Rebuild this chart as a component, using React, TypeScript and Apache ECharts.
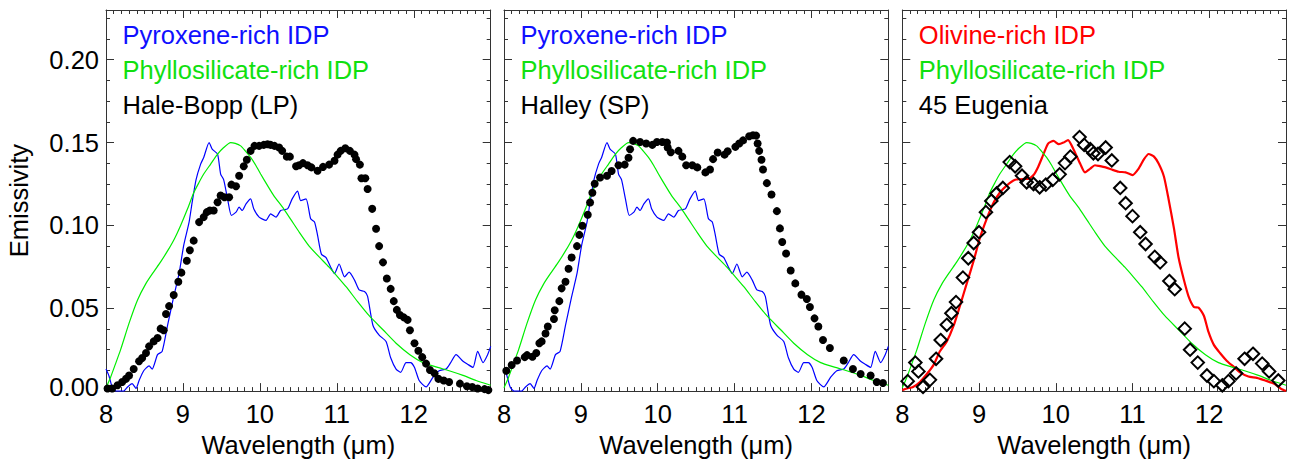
import React, { useEffect, useRef } from "react";
import * as echarts from "echarts";

// ---------- data (wavelength µm, emissivity) ----------
const pyroxeneIDP: number[][] = [
  [8.0, 0.0133], [8.04, 0.009], [8.08, 0.0025], [8.13, 0.0], [8.23, 0.0], [8.28, 0.0025], [8.34, 0.0045],
  [8.39, 0.0016], [8.43, 0.0064], [8.49, 0.0123], [8.56, 0.0152], [8.6, 0.0133], [8.67, 0.022], [8.73, 0.024],
  [8.8, 0.0396], [8.88, 0.057], [8.95, 0.071], [9.01, 0.088], [9.08, 0.102], [9.12, 0.114], [9.17, 0.1275],
  [9.23, 0.137], [9.27, 0.141], [9.34, 0.15], [9.38, 0.146], [9.45, 0.143], [9.49, 0.131], [9.53, 0.1275],
  [9.58, 0.116], [9.63, 0.106], [9.69, 0.108], [9.73, 0.111], [9.77, 0.109], [9.82, 0.113], [9.88, 0.116],
  [9.92, 0.11], [9.99, 0.105], [10.08, 0.103], [10.14, 0.107], [10.21, 0.105], [10.27, 0.109], [10.36, 0.11],
  [10.42, 0.116], [10.49, 0.1207], [10.53, 0.115], [10.6, 0.116], [10.66, 0.104], [10.71, 0.102], [10.75, 0.094],
  [10.8, 0.0826], [10.86, 0.0806], [10.92, 0.0748], [10.97, 0.0709], [11.03, 0.0767], [11.1, 0.0689],
  [11.16, 0.0718], [11.23, 0.067], [11.29, 0.0611], [11.36, 0.0601], [11.4, 0.0572], [11.47, 0.0396],
  [11.55, 0.0338], [11.64, 0.0299], [11.7, 0.0201], [11.77, 0.0133], [11.83, 0.0113], [11.9, 0.0172],
  [11.96, 0.0172], [12.01, 0.0143], [12.07, 0.0064], [12.16, 0.0025], [12.25, 0.0084], [12.33, 0.0123],
  [12.42, 0.0133], [12.48, 0.0172], [12.55, 0.022], [12.64, 0.018], [12.7, 0.0162], [12.77, 0.0143],
  [12.83, 0.024], [12.9, 0.0172], [12.96, 0.022], [13.0, 0.027],
];

const phyllosilicateIDP: number[][] = [
  [8.0, 0.002], [8.06, 0.0084], [8.12, 0.016], [8.19, 0.025], [8.3, 0.041], [8.41, 0.055], [8.52, 0.065],
  [8.62, 0.072], [8.71, 0.078], [8.8, 0.0846], [8.89, 0.092], [8.97, 0.1], [9.06, 0.11], [9.14, 0.1197],
  [9.21, 0.126], [9.27, 0.131], [9.36, 0.137], [9.45, 0.143], [9.53, 0.147], [9.62, 0.15], [9.68, 0.1495],
  [9.75, 0.148], [9.81, 0.145], [9.88, 0.141], [9.95, 0.136], [10.01, 0.131], [10.1, 0.124], [10.18, 0.118],
  [10.31, 0.11], [10.41, 0.103], [10.51, 0.096], [10.64, 0.0875], [10.77, 0.081], [10.9, 0.0748],
  [11.01, 0.069], [11.12, 0.063], [11.27, 0.054], [11.42, 0.0455], [11.6, 0.037], [11.77, 0.0289],
  [11.95, 0.022], [12.12, 0.0172], [12.3, 0.0145], [12.46, 0.0123], [12.64, 0.0095], [12.81, 0.0064],
  [13.0, 0.0035],
];

const olivineIDP: number[][] = [
  [8.0, 0.0006], [8.06, 0.0016], [8.14, 0.0025], [8.23, 0.0055], [8.32, 0.0103], [8.41, 0.016], [8.49, 0.024],
  [8.58, 0.03], [8.67, 0.0396], [8.75, 0.0513], [8.84, 0.065], [8.93, 0.0787], [9.01, 0.0923], [9.1, 0.104],
  [9.19, 0.1138], [9.27, 0.1197], [9.36, 0.124], [9.47, 0.1275], [9.58, 0.128], [9.64, 0.128], [9.71, 0.1304],
  [9.77, 0.1353], [9.84, 0.143], [9.9, 0.1494], [9.97, 0.151], [10.04, 0.149], [10.1, 0.15], [10.16, 0.1515],
  [10.23, 0.146], [10.32, 0.137], [10.38, 0.132], [10.45, 0.1343], [10.51, 0.1363], [10.56, 0.1359],
  [10.65, 0.135], [10.73, 0.1337], [10.82, 0.1324], [10.91, 0.132], [11.0, 0.1304], [11.08, 0.1343],
  [11.15, 0.14], [11.21, 0.1431], [11.28, 0.1415], [11.34, 0.1373], [11.41, 0.1294], [11.47, 0.1158],
  [11.54, 0.0982], [11.6, 0.0806], [11.67, 0.067], [11.73, 0.0572], [11.8, 0.0508], [11.86, 0.0504],
  [11.93, 0.0455], [11.99, 0.0357], [12.06, 0.0279], [12.14, 0.023], [12.23, 0.0182], [12.32, 0.0146],
  [12.4, 0.0113], [12.51, 0.0088], [12.62, 0.008], [12.73, 0.0064], [12.84, 0.0045], [12.93, 0.0016],
  [13.0, 0.0],
];

const haleBopp: number[][] = [
  [8.02, 0.0016], [8.08, 0.0016], [8.15, 0.0035], [8.21, 0.0055], [8.26, 0.0074], [8.3, 0.0094], [8.36, 0.0133],
  [8.43, 0.018], [8.47, 0.02], [8.52, 0.023], [8.56, 0.027], [8.62, 0.03], [8.67, 0.032], [8.71, 0.0377],
  [8.75, 0.0367], [8.78, 0.0465], [8.82, 0.0513], [8.88, 0.058], [8.94, 0.066], [8.98, 0.0715], [9.05, 0.0787],
  [9.09, 0.085], [9.14, 0.0908], [9.21, 0.102], [9.27, 0.105], [9.31, 0.108], [9.35, 0.109], [9.4, 0.109],
  [9.45, 0.114], [9.49, 0.118], [9.54, 0.117], [9.6, 0.117], [9.63, 0.1246], [9.69, 0.1236], [9.73, 0.13],
  [9.79, 0.1357], [9.83, 0.1396], [9.88, 0.145], [9.93, 0.148], [9.99, 0.148], [10.05, 0.1486], [10.1, 0.149],
  [10.14, 0.1486], [10.19, 0.148], [10.25, 0.147], [10.29, 0.145], [10.35, 0.1415], [10.39, 0.1415],
  [10.47, 0.1357], [10.51, 0.1363], [10.56, 0.1376], [10.62, 0.1363], [10.67, 0.135], [10.75, 0.133],
  [10.82, 0.1353], [10.9, 0.1367], [10.97, 0.139], [11.01, 0.1427], [11.05, 0.145], [11.11, 0.1466],
  [11.17, 0.145], [11.23, 0.1427], [11.25, 0.14], [11.3, 0.1367], [11.32, 0.1285], [11.37, 0.1285],
  [11.4, 0.122], [11.46, 0.11], [11.51, 0.098], [11.55, 0.0875], [11.6, 0.0777], [11.65, 0.068], [11.7, 0.0617],
  [11.74, 0.0543], [11.78, 0.049], [11.82, 0.0459], [11.87, 0.0445], [11.92, 0.043], [11.95, 0.0367],
  [12.01, 0.0289], [12.06, 0.0244], [12.11, 0.0205], [12.16, 0.0166], [12.21, 0.0127], [12.27, 0.0107],
  [12.32, 0.0074], [12.39, 0.0064], [12.46, 0.0055], [12.6, 0.0045], [12.69, 0.0029], [12.76, 0.0025],
  [12.83, 0.0016], [12.92, 0.0012], [12.97, 0.0006],
];

const halley: number[][] = [
  [8.03, 0.0123], [8.1, 0.0158], [8.17, 0.0185], [8.27, 0.0205], [8.3, 0.0217], [8.37, 0.0207], [8.42, 0.023],
  [8.46, 0.0289], [8.49, 0.03], [8.54, 0.0348], [8.57, 0.039], [8.65, 0.0435], [8.66, 0.0488], [8.72, 0.0543],
  [8.75, 0.062], [8.8, 0.066], [8.84, 0.0738], [8.88, 0.0806], [8.95, 0.0875], [8.98, 0.0943], [9.02, 0.0998],
  [9.09, 0.1064], [9.12, 0.1138], [9.15, 0.1197], [9.18, 0.1251], [9.25, 0.1289], [9.34, 0.13], [9.4, 0.1328],
  [9.49, 0.1363], [9.57, 0.1367], [9.62, 0.1408], [9.64, 0.146], [9.68, 0.151], [9.77, 0.1503], [9.85, 0.1494],
  [9.93, 0.1486], [9.99, 0.1503], [10.06, 0.1503], [10.12, 0.15], [10.13, 0.147], [10.17, 0.1441],
  [10.27, 0.145], [10.32, 0.1415], [10.37, 0.1363], [10.45, 0.1363], [10.515, 0.135], [10.62, 0.132],
  [10.68, 0.1337], [10.72, 0.14], [10.78, 0.144], [10.87, 0.1427], [10.91, 0.1447], [11.01, 0.1474],
  [11.06, 0.1494], [11.11, 0.1513], [11.19, 0.1538], [11.24, 0.1544], [11.28, 0.1542], [11.3, 0.1494],
  [11.32, 0.145], [11.35, 0.1396], [11.37, 0.1337], [11.42, 0.1255], [11.48, 0.1187], [11.55, 0.1086],
  [11.59, 0.0982], [11.62, 0.09], [11.67, 0.083], [11.73, 0.0728], [11.79, 0.065], [11.87, 0.0582],
  [11.94, 0.0556], [11.98, 0.0508], [12.04, 0.0439], [12.09, 0.039], [12.15, 0.0308], [12.24, 0.026],
  [12.42, 0.0185], [12.54, 0.0133], [12.64, 0.0103], [12.77, 0.0094], [12.85, 0.0055], [12.93, 0.0049],
];

const eugenia45: number[][] = [
  [8.07, 0.006], [8.17, 0.0172], [8.21, 0.0119], [8.27, 0.0025], [8.36, 0.0068], [8.44, 0.0195], [8.5, 0.0308],
  [8.58, 0.04], [8.64, 0.047], [8.7, 0.0537], [8.79, 0.0685], [8.86, 0.0802], [8.93, 0.0894], [9.0, 0.0959],
  [9.09, 0.108], [9.16, 0.1148], [9.23, 0.1193], [9.31, 0.1226], [9.4, 0.1382], [9.47, 0.1357], [9.56, 0.13],
  [9.62, 0.126], [9.71, 0.125], [9.79, 0.123], [9.87, 0.1246], [9.96, 0.1275], [10.05, 0.1308], [10.12, 0.1376],
  [10.19, 0.1415], [10.31, 0.1533], [10.37, 0.1486], [10.45, 0.146], [10.49, 0.1435], [10.55, 0.1431],
  [10.65, 0.147], [10.73, 0.1392], [10.84, 0.1226], [10.91, 0.1134], [11.0, 0.1056], [11.1, 0.0959],
  [11.17, 0.0888], [11.29, 0.081], [11.36, 0.0777], [11.48, 0.0664], [11.55, 0.0615], [11.68, 0.0377],
  [11.75, 0.025], [11.85, 0.0172], [11.97, 0.0094], [12.06, 0.006], [12.17, 0.0035], [12.25, 0.006],
  [12.35, 0.0107], [12.46, 0.0195], [12.57, 0.0225], [12.69, 0.0166], [12.78, 0.0119], [12.9, 0.0064],
];

const xTicks = { min: 8, max: 13, interval: 1 };
const yTicks = { min: 0, max: 0.23, interval: 0.05 };

const panelLabels: [string, string][][] = [
  [["Pyroxene-rich IDP", "#1010ff"], ["Phyllosilicate-rich IDP", "#10e010"], ["Hale-Bopp (LP)", "#000000"]],
  [["Pyroxene-rich IDP", "#1010ff"], ["Phyllosilicate-rich IDP", "#10e010"], ["Halley (SP)", "#000000"]],
  [["Olivine-rich IDP", "#ff0000"], ["Phyllosilicate-rich IDP", "#10e010"], ["45 Eugenia", "#000000"]],
];

const FONT = "'Liberation Sans', Arial, Helvetica, sans-serif";
const AXIS = "#333333";
const FS = 25.5;

const grids = [
  { left: 106, top: 10, width: 384.7, height: 392.7 },
  { left: 504, top: 10, width: 384.3, height: 392.7 },
  { left: 902.3, top: 10, width: 383.7, height: 392.7 },
];

function xAxis(g: number, pos: "bottom" | "top") {
  const bottom = pos === "bottom";
  return {
    type: "value",
    gridIndex: g,
    position: pos,
    ...xTicks,
    name: bottom ? "Wavelength (μm)" : "",
    nameLocation: "middle",
    nameGap: 35,
    nameTextStyle: { fontFamily: FONT, fontSize: FS, color: "#000" },
    axisLine: { show: true, onZero: false, lineStyle: { color: AXIS, width: 1 } },
    axisTick: { show: true, inside: true, length: 8, lineStyle: { color: AXIS } },
    minorTick: { show: true, splitNumber: 10, length: 4, lineStyle: { color: AXIS } },
    axisLabel: {
      show: bottom,
      fontFamily: FONT,
      fontSize: FS,
      color: "#000",
      margin: 10,
      showMaxLabel: false,
      formatter: (v: number) => String(v),
    },
    splitLine: { show: false },
    minorSplitLine: { show: false },
  };
}

function yAxis(g: number, pos: "left" | "right") {
  const labels = pos === "left" && g === 0;
  return {
    type: "value",
    gridIndex: g,
    position: pos,
    ...yTicks,
    name: labels ? "Emissivity" : "",
    nameLocation: "middle",
    nameGap: 74,
    nameTextStyle: { fontFamily: FONT, fontSize: FS, color: "#000" },
    axisLine: { show: true, onZero: false, lineStyle: { color: AXIS, width: 1 } },
    axisTick: { show: true, inside: true, length: 8, lineStyle: { color: AXIS } },
    minorTick: { show: true, splitNumber: 4, length: 4, lineStyle: { color: AXIS } },
    axisLabel: {
      show: labels,
      fontFamily: FONT,
      fontSize: FS,
      color: "#000",
      margin: 7,
      showMaxLabel: false,
      formatter: (v: number) => (v === 0 ? "{low|0.00}" : v.toFixed(2)),
      rich: { low: { fontFamily: FONT, fontSize: FS, color: "#000", padding: [0, 0, 9, 0] } },
    },
    splitLine: { show: false },
    minorSplitLine: { show: false },
  };
}

function lineSeries(data: number[][], g: number, color: string, width: number) {
  return {
    type: "line",
    xAxisIndex: g,
    yAxisIndex: g,
    data,
    showSymbol: false,
    symbol: "none",
    smooth: 0.2,
    lineStyle: { color, width },
    z: 2,
  };
}

function dots(data: number[][], g: number) {
  return {
    type: "scatter", xAxisIndex: g, yAxisIndex: g, data,
    symbol: "circle", symbolSize: 8, itemStyle: { color: "#000", opacity: 1 }, z: 3,
  };
}

export default function App() {
  const ref = useRef<HTMLDivElement>(null);
  useEffect(() => {
    if (!ref.current) return;
    const chart = echarts.init(ref.current, null, { renderer: "svg" });
    const graphicTexts: any[] = [];
    panelLabels.forEach((lines, p) => {
      lines.forEach(([text, color], i) => {
        graphicTexts.push({
          type: "text",
          x: grids[p].left + 16.5,
          y: 35.3 + i * 34.7,
          style: { text, fill: color, font: `${FS}px ${FONT}`, verticalAlign: "middle", align: "left" },
        });
      });
    });

    const option: any = {
      animation: false,
      backgroundColor: "#fff",
      grid: grids.map((g) => ({ ...g, containLabel: false })),
      xAxis: [0, 1, 2].map((g) => xAxis(g, "bottom")).concat([0, 1, 2].map((g) => xAxis(g, "top"))),
      yAxis: [0, 1, 2].map((g) => yAxis(g, "left")).concat([0, 1, 2].map((g) => yAxis(g, "right"))),
      series: [
        lineSeries(pyroxeneIDP, 0, "#0000ff", 1.2),
        lineSeries(phyllosilicateIDP, 0, "#00ee00", 1.2),
        dots(haleBopp, 0),
        lineSeries(pyroxeneIDP, 1, "#0000ff", 1.2),
        lineSeries(phyllosilicateIDP, 1, "#00ee00", 1.2),
        dots(halley, 1),
        lineSeries(olivineIDP, 2, "#ff0000", 2.2),
        lineSeries(phyllosilicateIDP, 2, "#00ee00", 1.2),
        {
          type: "scatter", xAxisIndex: 2, yAxisIndex: 2, data: eugenia45,
          symbol: "diamond", symbolSize: 12.5,
          itemStyle: { color: "rgba(0,0,0,0)", borderColor: "#000", borderWidth: 2, opacity: 1 }, z: 3,
        },
      ],
      graphic: graphicTexts,
    };
    chart.setOption(option);
    return () => chart.dispose();
  }, []);
  return (
    <div
      ref={ref}
      style={{ position: "absolute", left: 0, top: 0, width: 1289, height: 463, background: "#fff" }}
    />
  );
}
